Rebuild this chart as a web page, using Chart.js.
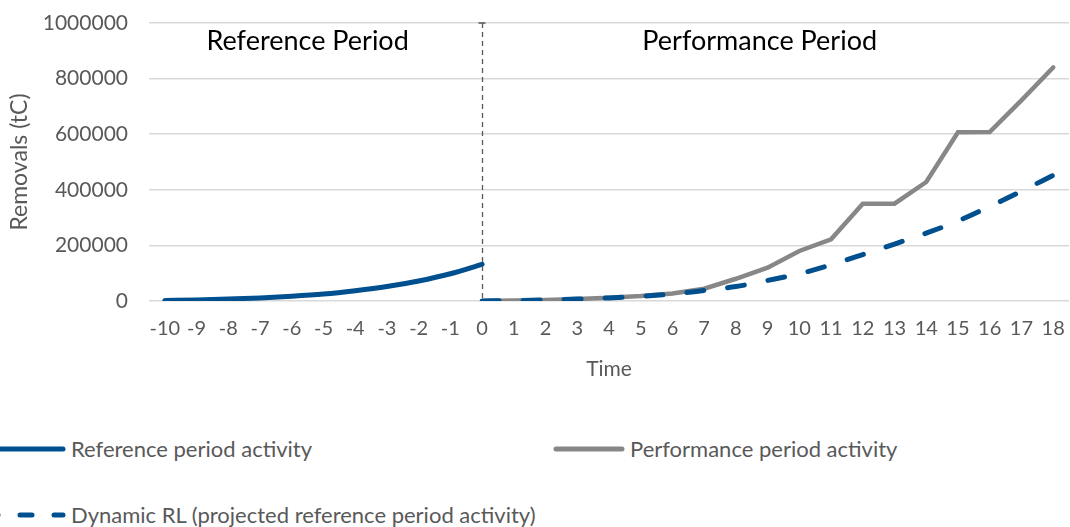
<!DOCTYPE html>
<html lang="en">
<head>
  <meta charset="UTF-8" />
  <title>Removals over time</title>
  <script src="https://cdn.jsdelivr.net/npm/chart.js"></script>
  <style>
    body { margin: 0; background: #fff; font-family: Lato, "Open Sans", sans-serif; }
    #wrap { position: relative; width: 1070px; height: 527px; }
    .chart-box { position: absolute; left: 0; top: 0; width: 1070px; height: 400px; }
    .leg { position: absolute; display: flex; align-items: center; font-size: 22px; color: #595959; white-space: nowrap; }
    .leg svg { margin-right: 5px; }
  </style>
</head>
<body>
<div id="wrap">
  <div class="chart-box"><canvas id="removalsChart"></canvas></div>

  <div class="leg" style="left:0; top:435px;">
    <svg width="66" height="8"><line x1="0" y1="4" x2="63" y2="4" stroke="#00508f" stroke-width="5" stroke-linecap="round"/></svg>
    Reference period activity
  </div>
  <div class="leg" style="left:553px; top:435px;">
    <svg width="72" height="8"><line x1="3" y1="4" x2="69" y2="4" stroke="#878787" stroke-width="5" stroke-linecap="round"/></svg>
    Performance period activity
  </div>
  <div class="leg" style="left:0; top:501px;">
    <svg width="66" height="8"><line x1="-14" y1="4" x2="63" y2="4" stroke="#00508f" stroke-width="5" stroke-linecap="round" stroke-dasharray="12 22"/></svg>
    Dynamic RL (projected reference period activity)
  </div>
</div>

<script>
  // time axis -10 .. 18
  const years = ["-10","-9","-8","-7","-6","-5","-4","-3","-2","-1","0","1","2","3","4","5","6","7","8","9","10","11","12","13","14","15","16","17","18"];

  // reference period (-10 .. 0), rest empty
  const referenceActivity = [2000, 4000, 7000, 11000, 17000, 25000, 37000, 52000, 72000, 98000, 132000,
    null, null, null, null, null, null, null, null, null, null, null, null, null, null, null, null, null, null];

  // performance period (0 .. 18)
  const performanceActivity = [null, null, null, null, null, null, null, null, null, null,
    0, 1500, 3500, 7000, 12000, 18000, 27000, 44000, 80000, 120000, 180000, 222000, 350000, 350000, 428000, 607000, 608000, 722000, 840000];

  // dynamic RL (0 .. 18)
  const dynamicRL = [null, null, null, null, null, null, null, null, null, null,
    0, 1500, 4000, 7000, 11000, 17000, 25000, 38000, 52000, 74000, 98000, 130000, 167000, 205000, 244000, 288000, 340000, 395000, 452000];

  const yTicks = [0, 200000, 400000, 600000, 800000, 1000000];

  const blue = "#00508f";
  const grey = "#878787";
  const txt = "#595959";
  const fontFam = "Lato, 'Open Sans', sans-serif";

  // dashed separator + period labels
  const periodPlugin = {
    id: "periods",
    afterDatasetsDraw(chart) {
      const { ctx, chartArea, scales } = chart;
      const x0 = Math.round(scales.x.getPixelForValue(years.indexOf("0"))) + 0.5;
      ctx.save();
      ctx.strokeStyle = "#595959";
      ctx.lineWidth = 1.3;
      ctx.setLineDash([5, 4]);
      ctx.beginPath();
      ctx.moveTo(x0, chartArea.top);
      ctx.lineTo(x0, chartArea.bottom);
      ctx.stroke();
      ctx.setLineDash([]);
      ctx.lineWidth = 1.5;
      ctx.beginPath();
      ctx.moveTo(x0 - 4, chartArea.top);
      ctx.lineTo(x0 + 3, chartArea.top);
      ctx.stroke();

      ctx.fillStyle = "#000";
      ctx.font = "27px " + fontFam;
      ctx.textAlign = "center";
      ctx.textBaseline = "middle";
      const yText = scales.y.getPixelForValue(935000);
      ctx.fillText("Reference Period", scales.x.getPixelForValue(4.5), yText);
      ctx.fillText("Performance Period", scales.x.getPixelForValue(18.75), yText);
      ctx.restore();
    }
  };

  const ctx = document.getElementById("removalsChart").getContext("2d");
  new Chart(ctx, {
    type: "line",
    data: {
      labels: years,
      datasets: [
        {
          label: "Reference period activity",
          data: referenceActivity,
          borderColor: blue,
          borderWidth: 5,
          borderCapStyle: "round",
          cubicInterpolationMode: "monotone",
          pointRadius: 0,
          order: 3
        },
        {
          label: "Performance period activity",
          data: performanceActivity,
          borderColor: grey,
          borderWidth: 4.5,
          borderCapStyle: "round",
          pointRadius: 0,
          order: 2
        },
        {
          label: "Dynamic RL (projected reference period activity)",
          data: dynamicRL,
          borderColor: blue,
          borderWidth: 5,
          borderDash: [17, 24],
          borderCapStyle: "round",
          cubicInterpolationMode: "monotone",
          pointRadius: 0,
          order: 1
        }
      ]
    },
    options: {
      responsive: true,
      maintainAspectRatio: false,
      animation: false,
      spanGaps: false,
      layout: { padding: { top: 23, right: 1, left: 0, bottom: 0 } },
      plugins: {
        legend: { display: false },
        tooltip: { enabled: false }
      },
      scales: {
        x: {
          offset: true,
          grid: { display: false, drawTicks: false },
          border: { display: false },
          ticks: { color: txt, font: { family: fontFam, size: 20 }, padding: 16, maxRotation: 0, autoSkip: false },
          title: { display: true, text: "Time", color: txt, font: { family: fontFam, size: 21 }, padding: { top: 0, bottom: 18 } },
          afterFit(scale) {
            scale.height = 99;
            scale.paddingLeft = 0;
            scale.paddingRight = 0;
          }
        },
        y: {
          min: 0,
          max: 1000000,
          afterBuildTicks(scale) { scale.ticks = yTicks.map(v => ({ value: v })); },
          grid: { color: "#d9d9d9", lineWidth: 1.5, drawTicks: false },
          border: { display: false },
          ticks: { color: txt, font: { family: fontFam, size: 21 }, padding: 21, callback: v => String(v) },
          title: { display: true, text: "Removals (tC)", color: txt, font: { family: fontFam, size: 23 }, padding: { top: 6, bottom: 0 } },
          afterFit(scale) {
            scale.width = 149;
            scale.paddingTop = 0;
            scale.paddingBottom = 0;
          }
        }
      }
    },
    plugins: [periodPlugin]
  });
</script>
</body>
</html>
